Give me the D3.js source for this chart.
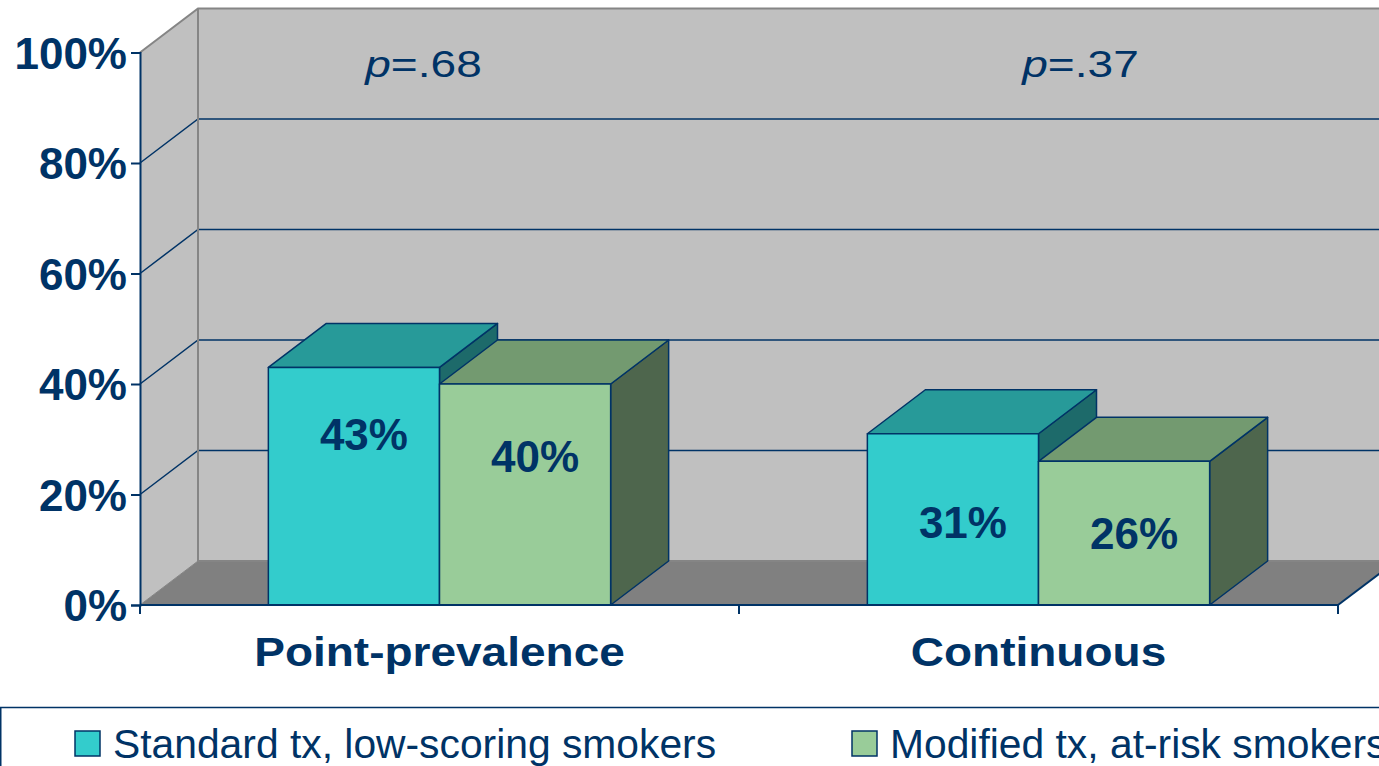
<!DOCTYPE html>
<html>
<head>
<meta charset="utf-8">
<script src="https://cdn.jsdelivr.net/npm/d3@7"></script>
<style>
  html, body { margin: 0; padding: 0; background: #ffffff; }
  svg { display: block; }
  text { font-family: "Liberation Sans", Arial, sans-serif; fill: #003366; }
</style>
</head>
<body>
<svg id="chart" width="1379" height="766"></svg>
<script>
// ---- data ----
const categories = ["Point-prevalence", "Continuous"];
const seriesNames = ["Standard tx, low-scoring smokers", "Modified tx, at-risk smokers"];
const standardValues = [43, 31];
const modifiedValues = [40, 26];
const pValues = ["68", "37"];
const yTicks = [0, 20, 40, 60, 80, 100];
// where each value label sits along its bar (in axis units)
const standardLabelAt = [31, 15];
const modifiedLabelAt = [27, 13];
// horizontal shift of each p-value note from its category centre (px)
const pShift = [-16, 42];

// ---- styling ----
const NAVY = "#003366";
const WALL = "#c0c0c0";
const FLOOR = "#808080";
const EDGE = "#858585";
const seriesColors = [
  { front: "#33cccc", top: "#279a99", side: "#1d6a6a" },
  { front: "#99cc99", top: "#739a70", side: "#4e664d" }
];

// 3D depth offset of walls and bars
const DX = 58, DY = -44;

const svg = d3.select("#chart");

const y = d3.scaleLinear().domain([0, 100]).range([605, 52.5]);
const x = d3.scaleBand().domain(categories).range([140, 1338]).paddingInner(0).paddingOuter(0);
const xs = d3.scaleBand().domain(seriesNames).range([0, x.bandwidth()]).paddingInner(0).paddingOuter(0.75);

const x0 = x.range()[0], x1 = x.range()[1];
const farRight = x1 + DX + 60;

// ---- walls and floor ----
const walls = svg.append("g");
// back wall
walls.append("rect")
  .attr("x", x0 + DX).attr("y", y(100) + DY)
  .attr("width", farRight - (x0 + DX)).attr("height", y(0) - y(100))
  .attr("fill", WALL);
// left wall
walls.append("path")
  .attr("d", d3.line()([[x0, y(0)], [x0, y(100)], [x0 + DX, y(100) + DY], [x0 + DX, y(0) + DY]]))
  .attr("fill", WALL);
// floor
walls.append("path")
  .attr("d", d3.line()([[x0, y(0)], [x0 + DX, y(0) + DY], [farRight, y(0) + DY],
    [farRight, y(0) + DY * (farRight - x1) / DX], [x1, y(0)]]) + "Z")
  .attr("fill", FLOOR);

// grid lines on left and back walls
const grid = svg.append("g").attr("stroke", NAVY).attr("stroke-width", 1.5).attr("fill", "none");
yTicks.filter(t => t > 0 && t < 100).forEach(t => {
  grid.append("path")
    .attr("d", d3.line()([[x0, y(t)], [x0 + DX, y(t) + DY], [farRight, y(t) + DY]]));
});

// wall edges
const edges = svg.append("g").attr("stroke", EDGE).attr("stroke-width", 2).attr("fill", "none");
edges.append("path").attr("d", d3.line()([[x0, y(100)], [x0 + DX, y(100) + DY], [farRight, y(100) + DY]]));
edges.append("path").attr("d", d3.line()([[x0 + DX, y(100) + DY], [x0 + DX, y(0) + DY], [farRight, y(0) + DY]]));
edges.append("path").attr("d", d3.line()([[x0, y(0)], [x0 + DX, y(0) + DY]])).attr("stroke-width", 1);

// floor front-right edge
svg.append("path")
  .attr("d", d3.line()([[x1, y(0)], [x1 + DX, y(0) + DY]]))
  .attr("stroke", NAVY).attr("stroke-width", 2).attr("fill", "none");

// ---- bars ----
const barData = [];
categories.forEach((c, i) => {
  [standardValues, modifiedValues].forEach((vals, s) => {
    barData.push({ cat: c, s, name: seriesNames[s], value: vals[i],
      labelAt: (s === 0 ? standardLabelAt : modifiedLabelAt)[i] });
  });
});

const bars = svg.append("g").attr("stroke", NAVY).attr("stroke-width", 1.5).attr("stroke-linejoin", "round");
barData.forEach(d => {
  const bx = x(d.cat) + xs(d.name);
  const bw = xs.bandwidth();
  const top = y(d.value), bot = y(0);
  const col = seriesColors[d.s];
  const g = bars.append("g");
  // side face
  g.append("path")
    .attr("d", d3.line()([[bx + bw, top], [bx + bw + DX, top + DY], [bx + bw + DX, bot + DY], [bx + bw, bot]]) + "Z")
    .attr("fill", col.side);
  // top face
  g.append("path")
    .attr("d", d3.line()([[bx, top], [bx + DX, top + DY], [bx + bw + DX, top + DY], [bx + bw, top]]) + "Z")
    .attr("fill", col.top);
  // front face
  g.append("rect")
    .attr("x", bx).attr("y", top).attr("width", bw).attr("height", bot - top)
    .attr("fill", col.front);
});

// value labels
svg.append("g").selectAll("text").data(barData).join("text")
  .attr("x", d => x(d.cat) + xs(d.name) + xs.bandwidth() / 2 + 10)
  .attr("y", d => y(d.labelAt) + 16)
  .attr("text-anchor", "middle")
  .attr("font-size", 44).attr("font-weight", "bold")
  .text(d => d.value + "%");

// ---- y axis ----
const yAxis = d3.axisLeft(y).tickValues(yTicks).tickFormat(d => d + "%").tickSize(9).tickPadding(4);
const ya = svg.append("g").attr("transform", `translate(${x0},0)`).call(yAxis);
ya.select(".domain").attr("stroke", NAVY).attr("stroke-width", 2);
ya.selectAll(".tick line").attr("stroke", NAVY).attr("stroke-width", 2);
ya.selectAll(".tick text")
  .attr("font-family", "'Liberation Sans', Arial, sans-serif")
  .attr("font-size", 44).attr("font-weight", "bold")
  .attr("fill", NAVY).attr("dy", "0.36em");

// ---- category axis ----
const xa = svg.append("g");
xa.append("line").attr("x1", x0).attr("x2", x1).attr("y1", y(0)).attr("y2", y(0))
  .attr("stroke", NAVY).attr("stroke-width", 2);
const catTicks = categories.map(c => x(c)).concat([x1]);
xa.selectAll("line.tk").data(catTicks).join("line").attr("class", "tk")
  .attr("x1", d => d).attr("x2", d => d).attr("y1", y(0)).attr("y2", y(0) + 9)
  .attr("stroke", NAVY).attr("stroke-width", 2);
xa.selectAll("g.cl").data(categories).join("g").attr("class", "cl")
  .attr("transform", d => `translate(${x(d) + x.bandwidth() / 2},666) scale(1.15,1)`)
  .append("text")
  .attr("text-anchor", "middle")
  .attr("font-size", 40).attr("font-weight", "bold")
  .text(d => d);

// ---- p-values ----
const pg = svg.append("g").selectAll("g").data(categories).join("g")
  .attr("transform", (d, i) => `translate(${x(d) + x.bandwidth() / 2 + pShift[i]},77) scale(1.28,1)`);
const pt = pg.append("text").attr("text-anchor", "middle").attr("font-size", 36);
pt.append("tspan").attr("font-style", "italic").text("p");
pt.append("tspan").text((d, i) => "=." + pValues[i]);

// ---- legend ----
const lg = svg.append("g");
lg.append("rect").attr("x", 0.75).attr("y", 707.5).attr("width", 1500).attr("height", 100)
  .attr("fill", "#ffffff").attr("stroke", NAVY).attr("stroke-width", 1.5);
const li = lg.selectAll("g.li").data(seriesNames).join("g").attr("class", "li")
  .attr("transform", (d, i) => `translate(${75 + i * 777},0)`);
li.append("rect").attr("x", 0).attr("y", 731).attr("width", 25).attr("height", 25)
  .attr("fill", (d, i) => seriesColors[i].front).attr("stroke", NAVY).attr("stroke-width", 1.5);
li.append("text").attr("x", 38).attr("y", 758).attr("font-size", 40.8).text(d => d);
</script>
</body>
</html>
